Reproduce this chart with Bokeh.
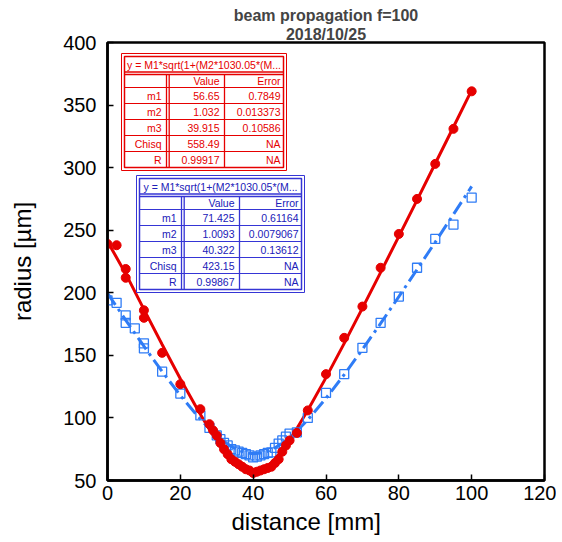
from bokeh.plotting import figure
from bokeh.models import Range1d, Title, FixedTicker
from bokeh.core.properties import value
from bokeh.embed import file_html
from bokeh.resources import INLINE

# ---------------- data ----------------
red_x = [0, 2.5, 5, 5, 10, 10, 15, 20, 25.5, 28, 29, 30, 31, 32, 33, 34, 35, 36, 37, 38, 39, 40,
         41, 42, 43, 44, 45, 46, 47, 48, 49, 50, 52, 55, 60, 65, 70, 75, 80, 85, 90, 95, 100]
red_y = [239, 238, 219, 212, 186, 180, 152, 127, 107, 95, 90, 86, 80, 75, 71, 67, 65, 63, 61, 59, 58, 56,
         57, 58, 59, 60, 61, 64, 67, 73, 78, 82, 88, 106, 135, 164, 189, 220, 247, 275, 303, 331, 361]

blue_x = [0, 2.5, 5, 5, 7.5, 10, 10, 15, 20, 25.5, 28, 30, 31, 32, 33, 34, 35, 36, 37, 38, 39, 40,
          41, 42, 43, 44, 45, 46, 47, 48, 49, 50, 52, 55, 60, 65, 70, 75, 80, 85, 90, 95, 100]
blue_y = [194, 192, 182, 176, 171.5, 159.5, 155.5, 137, 119.5, 102, 92, 86, 83, 80, 78, 75, 74, 73, 72, 71, 70, 68.5,
          69, 70, 71, 72, 72.5, 76, 79.5, 82, 85, 87.5, 88.5, 100, 120, 135, 156, 176, 197, 220, 243, 254.5, 276]

fit_x = [0, 5, 10, 15, 20, 25, 28, 30, 32, 34, 36, 38, 40, 42, 44, 46, 48, 50, 52, 55,
         60, 65, 70, 75, 80, 85, 90, 95, 100]
red_fit_y = [241, 215.3, 186.7, 158.7, 131.3, 105.3, 90.7, 81.8, 73.7, 66.7, 61.3, 57.8, 56.7, 58.0, 61.6,
             67.2, 74.3, 82.5, 91.5, 106.1, 132.2, 159.6, 187.7, 216.3, 245.1, 274.1, 303.3, 332.5, 361.9]
blue_fit_y = [199.6, 178.2, 157.3, 137.1, 118.0, 100.6, 91.4, 85.9, 81.1, 77.2, 74.2, 72.2, 71.4, 71.9, 73.4,
              76.1, 79.8, 84.3, 89.5, 98.5, 115.7, 134.6, 154.7, 175.5, 196.9, 218.6, 240.5, 262.7, 285.0]

x_ticks = [0, 20, 40, 60, 80, 100, 120]
y_ticks = [50, 100, 150, 200, 250, 300, 350, 400]

fit_equation = "y = M1*sqrt(1+(M2*1030.05*(M..."
param_names = ["m1", "m2", "m3", "Chisq", "R"]
red_values = ["56.65", "1.032", "39.915", "558.49", "0.99917"]
red_errors = ["0.7849", "0.013373", "0.10586", "NA", "NA"]
blue_values = ["71.425", "1.0093", "40.322", "423.15", "0.99867"]
blue_errors = ["0.61164", "0.0079067", "0.13612", "NA", "NA"]

FONT = "Liberation Sans"
RED = "#e60000"
BLUE = "#2f7cf6"

# ---------------- figure ----------------
p = figure(title=None, frame_width=437, frame_height=438,
           x_range=Range1d(0, 120), y_range=Range1d(50, 400),
           output_backend="svg", toolbar_location=None,
           min_border_left=107, min_border_right=12, min_border_top=42, min_border_bottom=62)

p.xgrid.visible = False
p.ygrid.visible = False
p.outline_line_color = "black"
p.outline_line_width = 2.5
p.outline_line_alpha = 1.0

for ax in (p.xaxis[0], p.yaxis[0]):
    ax.axis_line_width = 2.5
    ax.major_tick_in = 6
    ax.major_tick_out = 0
    ax.major_tick_line_width = 1.5
    ax.minor_tick_in = 0
    ax.minor_tick_out = 0
    ax.major_label_text_font = FONT
    ax.major_label_text_font_size = "20px"
    ax.major_label_text_color = "black"
    ax.axis_label_text_font = FONT
    ax.axis_label_text_font_size = "24px"
    ax.axis_label_text_font_style = "normal"
    ax.axis_label_text_color = "black"

p.xaxis.ticker = FixedTicker(ticks=x_ticks)
p.yaxis.ticker = FixedTicker(ticks=y_ticks)
p.yaxis.axis_label = "radius [µm]"
p.xaxis.major_label_standoff = 5
p.yaxis.major_label_standoff = 11
p.yaxis.axis_label_standoff = 24

# x-axis title, slightly left of centre as in the original
p.add_layout(Title(text="distance [mm]", align="left", offset=124, text_font=FONT, text_font_size="24px",
                   text_font_style="normal", text_color="black", standoff=6), "below")

p.add_layout(Title(text="2018/10/25", align="center", text_font=FONT, text_font_size="16px",
                   text_font_style="bold", standoff=0), "above")
p.add_layout(Title(text="beam propagation f=100", align="center", text_font=FONT, text_font_size="16px",
                   text_font_style="bold", standoff=0), "above")

# ---------------- series ----------------
p.line(fit_x, blue_fit_y, line_color=BLUE, line_width=3, line_dash="14 5 3 5")
p.line(fit_x, red_fit_y, line_color=RED, line_width=3)
p.scatter(blue_x, blue_y, marker="square", size=9, fill_color=None, line_color=BLUE, line_width=1.3)
p.scatter(red_x, red_y, marker="circle", size=9, fill_color=RED, line_color=RED)


# ---------------- fit tables (page-pixel geometry converted to data) ----------------
def X(px):
    return (px - 106) * 120.0 / 437.0


def Y(py):
    return 50 + (480 - py) * 350.0 / 438.0


def draw_table(L, T, W, line_color, text_color, values, errors):
    R = L + W
    B = T + 117
    c1 = L + 45
    c2 = L + 103
    p.quad(left=[X(L)], right=[X(R)], top=[Y(T)], bottom=[Y(B)],
           fill_color="white", line_color=line_color, line_width=1)
    p.quad(left=[X(L + 3)], right=[X(R - 3)], top=[Y(T + 3)], bottom=[Y(B - 3)],
           fill_color=None, line_color=line_color, line_width=1.5)
    # title separator (double)
    p.segment(x0=[X(L + 3)] * 2, x1=[X(R - 3)] * 2, y0=[Y(T + 18.5), Y(T + 21)], y1=[Y(T + 18.5), Y(T + 21)],
              line_color=line_color, line_width=1.3)
    # row separators
    ys = [T + 34 + 16 * k for k in range(5)]
    p.segment(x0=[X(L + 3)] * 5, x1=[X(R - 3)] * 5, y0=[Y(v) for v in ys], y1=[Y(v) for v in ys],
              line_color=line_color, line_width=1)
    # column separators
    p.segment(x0=[X(c1), X(c1 + 2.7), X(c2)], x1=[X(c1), X(c1 + 2.7), X(c2)],
              y0=[Y(T + 21)] * 3, y1=[Y(B - 3)] * 3, line_color=line_color, line_width=1.3)
    tf = value(FONT)
    p.text(x=[X((L + R) / 2)], y=[Y(T + 11)], text=[fit_equation], text_font=tf, text_font_size="10.5px",
           text_color=text_color, text_align="center", text_baseline="middle")
    p.text(x=[X(c2 - 5), X(R - 6)], y=[Y(T + 27.5)] * 2, text=["Value", "Error"], text_font=tf,
           text_font_size="10.5px", text_color=text_color, text_align="right", text_baseline="middle")
    rows_y = [Y(T + 42 + 16 * k) for k in range(5)]
    p.text(x=[X(c1 - 5)] * 5, y=rows_y, text=param_names, text_font=tf, text_font_size="10.5px",
           text_color=text_color, text_align="right", text_baseline="middle")
    p.text(x=[X(c2 - 5)] * 5, y=rows_y, text=values, text_font=tf, text_font_size="10.5px",
           text_color=text_color, text_align="right", text_baseline="middle")
    p.text(x=[X(R - 6)] * 5, y=rows_y, text=errors, text_font=tf, text_font_size="10.5px",
           text_color=text_color, text_align="right", text_baseline="middle")


draw_table(120, 53, 165, RED, RED, red_values, red_errors)
draw_table(135, 175, 168, "#3535d5", "#2020b8", blue_values, blue_errors)

open("out.html", "w").write(file_html(p, INLINE))
